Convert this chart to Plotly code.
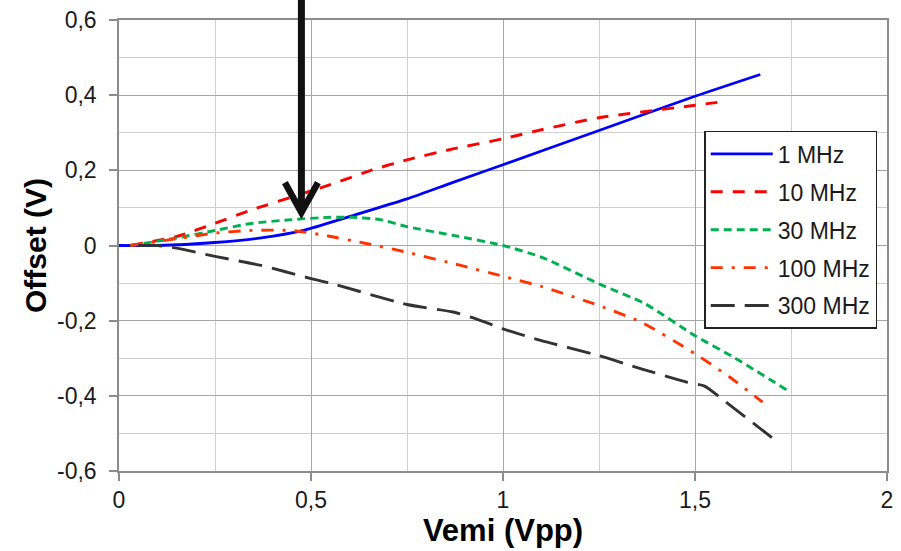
import plotly.graph_objects as go

# ---- data ----
x_1mhz = [0.0, 0.1, 0.25, 0.37, 0.48, 0.6, 0.75, 0.87, 1.0, 1.25, 1.5, 1.67]
y_1mhz = [0.0, 0.0, 0.008, 0.02, 0.04, 0.077, 0.124, 0.168, 0.215, 0.306, 0.397, 0.455]

x_10mhz = [0.03, 0.15, 0.25, 0.34, 0.45, 0.55, 0.66, 0.75, 0.87, 1.0, 1.1, 1.25, 1.5, 1.575]
y_10mhz = [0.0, 0.024, 0.059, 0.093, 0.129, 0.162, 0.201, 0.228, 0.257, 0.284, 0.308, 0.34, 0.373, 0.383]

x_30mhz = [0.03, 0.15, 0.25, 0.34, 0.45, 0.55, 0.61, 0.68, 0.75, 0.87, 1.0, 1.1, 1.25, 1.37, 1.5, 1.6, 1.745]
y_30mhz = [0.0, 0.02, 0.04, 0.058, 0.069, 0.075, 0.075, 0.069, 0.05, 0.027, 0.0, -0.031, -0.102, -0.155, -0.24, -0.297, -0.388]

x_100mhz = [0.03, 0.15, 0.25, 0.34, 0.45, 0.53, 0.65, 0.75, 0.89, 1.0, 1.1, 1.25, 1.36, 1.5, 1.59, 1.676]
y_100mhz = [0.0, 0.018, 0.033, 0.04, 0.04, 0.028, 0.004, -0.018, -0.053, -0.082, -0.109, -0.16, -0.204, -0.288, -0.35, -0.417]

x_300mhz = [0.05, 0.1, 0.15, 0.25, 0.37, 0.5, 0.55, 0.75, 0.87, 0.93, 1.0, 1.1, 1.25, 1.36, 1.48, 1.525, 1.57, 1.715]
y_300mhz = [0.0, 0.0, -0.007, -0.029, -0.053, -0.088, -0.1, -0.157, -0.177, -0.195, -0.222, -0.253, -0.293, -0.328, -0.364, -0.374, -0.408, -0.523]

series_names = ["1 MHz", "10 MHz", "30 MHz", "100 MHz", "300 MHz"]

x_tickvals = [0, 0.5, 1, 1.5, 2]
x_ticktext = ["0", "0,5", "1", "1,5", "2"]
y_tickvals = [-0.6, -0.4, -0.2, 0, 0.2, 0.4, 0.6]
y_ticktext = ["-0,6", "-0,4", "-0,2", "0", "0,2", "0,4", "0,6"]

x_title = "Vemi (Vpp)"
y_title = "Offset (V)"

# arrow annotation (data units)
arrow_x = 0.475
arrow_tip_y = 0.088

# ---- figure ----
X_RANGE = [0, 2]
Y_RANGE = [-0.6, 0.6]

styles = [
    dict(color="#0000FF", width=2.8, dash="solid"),
    dict(color="#FF0000", width=2.9, dash="12px,10px"),
    dict(color="#00B050", width=2.9, dash="8px,5px"),
    dict(color="#FF3300", width=2.9, dash="12px,9px,3px,9px"),
    dict(color="#333333", width=2.9, dash="24px,10px"),
]
xs = [x_1mhz, x_10mhz, x_30mhz, x_100mhz, x_300mhz]
ys = [y_1mhz, y_10mhz, y_30mhz, y_100mhz, y_300mhz]

fig = go.Figure()
for name, xv, yv, st in zip(series_names, xs, ys, styles):
    fig.add_trace(go.Scatter(
        x=xv, y=yv, mode="lines", name=name, legendgroup=name,
        line=dict(shape="spline", smoothing=0.6, **st),
    ))

def px_(xv):
    return (xv - X_RANGE[0]) / (X_RANGE[1] - X_RANGE[0])

def py_(yv):
    return (yv - Y_RANGE[0]) / (Y_RANGE[1] - Y_RANGE[0])

ax = px_(arrow_x)
tip = py_(arrow_tip_y)
arm_dx = 0.0215
arm_dy = 0.066
fig.add_shape(type="path", xref="paper", yref="paper",
              path=f"M {ax},1.1 L {ax},{tip + 0.01}",
              line=dict(color="#111111", width=7))
fig.add_shape(type="path", xref="paper", yref="paper",
              path=f"M {ax - arm_dx},{tip + arm_dy} L {ax},{tip} L {ax + arm_dx},{tip + arm_dy}",
              line=dict(color="#111111", width=6.5))

axis_common = dict(
    showline=True, linecolor="#8c8c8c", linewidth=1.5, mirror=True,
    ticks="outside", ticklen=8, tickcolor="#8c8c8c", tickwidth=1.5,
    gridcolor="#a6a6a6", gridwidth=1.3, zeroline=False, automargin=False,
    tickfont=dict(family="Liberation Sans, Arial", size=23, color="#1a1a1a"),
)

fig.update_xaxes(
    range=X_RANGE, tickvals=x_tickvals, ticktext=x_ticktext,
    minor=dict(dtick=0.25, tick0=0, showgrid=True, gridcolor="#cfcfcf", gridwidth=1.3, ticks=""),
    title=dict(text=x_title, standoff=4,
               font=dict(family="Liberation Sans, Arial", size=31, color="#000000", weight="bold")),
    ticklabelstandoff=0,
    **axis_common,
)
fig.update_yaxes(
    range=Y_RANGE, tickvals=y_tickvals, ticktext=y_ticktext,
    minor=dict(dtick=0.1, tick0=0, showgrid=True, gridcolor="#cfcfcf", gridwidth=1.3, ticks=""),
    title=dict(text=y_title, standoff=2,
               font=dict(family="Liberation Sans, Arial", size=30, color="#000000", weight="bold")),
    ticklabelstandoff=8,
    **axis_common,
)

fig.update_layout(
    width=901, height=551,
    margin=dict(l=119, r=14, t=20, b=80),
    paper_bgcolor="white", plot_bgcolor="white",
    separators=",.",
    showlegend=True,
    legend=dict(
        x=0.762, y=0.754, xanchor="left", yanchor="top",
        bgcolor="white", bordercolor="#222222", borderwidth=1.5,
        font=dict(family="Liberation Sans, Arial", size=23, color="#1a1a1a"),
        tracegroupgap=5, itemwidth=62,
    ),
)

# remove the page's default 8px body margin so the figure fills the window
fig.write_html("out.html", config={"displayModeBar": False},
               post_script="document.body.style.margin='0';")
